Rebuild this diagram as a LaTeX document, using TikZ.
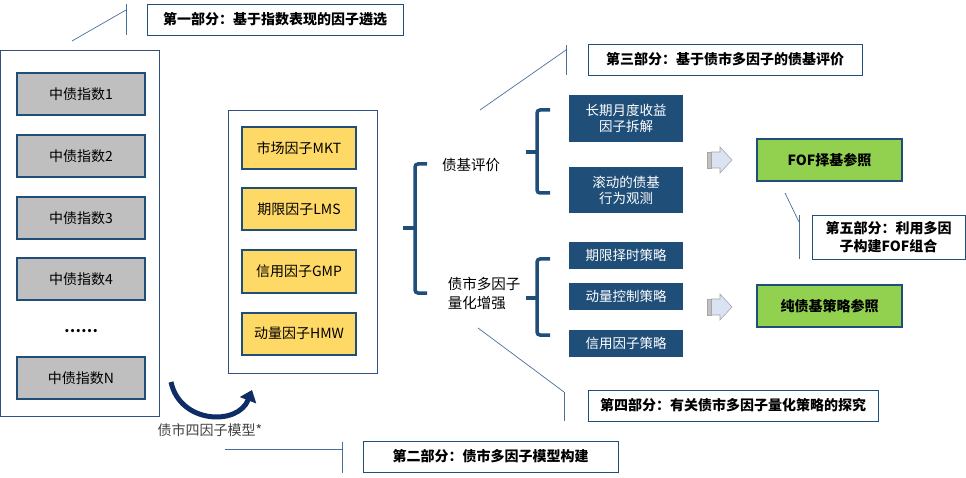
\documentclass[tikz,border=0pt]{standalone}
\usepackage{fontspec}
\setmainfont{Noto Sans CJK SC}
\usetikzlibrary{arrows.meta}

\definecolor{navy}{HTML}{1F4E79}
\definecolor{frameblue}{HTML}{2F5080}
\definecolor{leadblue}{HTML}{4A6E9A}
\definecolor{idxgrey}{HTML}{BFBFBF}
\definecolor{factoryellow}{HTML}{FFD966}
\definecolor{refgreen}{HTML}{92D050}
\definecolor{arrowfill}{HTML}{DAE3F3}
\definecolor{arrowedge}{HTML}{A6A6A6}
\definecolor{curvenavy}{HTML}{0E2D66}

\tikzset{
	framebox/.style={draw=frameblue, line width=0.8pt},
	idxbox/.style={draw=navy, line width=2pt, fill=idxgrey, minimum width=128, minimum height=42, font=\fontsize{14}{16}\selectfont},
	factorbox/.style={draw=navy, line width=2pt, fill=factoryellow, minimum width=114, minimum height=42, font=\fontsize{14}{16}\selectfont},
	subbox/.style={fill=navy, text=white, minimum width=114, align=center, font=\fontsize{13.5}{16}\selectfont},
	refbox/.style={draw=navy, line width=2pt, fill=refgreen, minimum width=145, minimum height=42, font=\bfseries\fontsize{14}{16}\selectfont},
	partbox/.style={draw=navy, line width=0.9pt, fill=white, minimum height=31, align=center, font=\bfseries\fontsize{14}{17}\selectfont},
	leader/.style={draw=leadblue, line width=0.7pt},
	bracket/.style={draw=navy, line width=3.5pt, rounded corners=3pt},
	heading/.style={align=left, font=\fontsize{14.5}{19}\selectfont}
}

\begin{document}
\begin{tikzpicture}[x=1pt,y=-1pt]
	\useasboundingbox (0,0) rectangle (966,478);

	% index list
	\draw[framebox] (0.4,50) rectangle (159,416);
	\node[idxbox] (idx1) at (81,94) {中债指数1};
	\node[idxbox] (idx2) at (81,156) {中债指数2};
	\node[idxbox] (idx3) at (81,218) {中债指数3};
	\node[idxbox] (idx4) at (81,279) {中债指数4};
	\node[font=\bfseries\fontsize{15}{16}\selectfont] (dots) at (81,331) {……};
	\node[idxbox] (idxN) at (81,378) {中债指数N};

	% factors
	\draw[framebox] (228,110) rectangle (377,373);
	\node[factorbox] (mkt) at (299,148) {市场因子MKT};
	\node[factorbox] (lms) at (299,209.5) {期限因子LMS};
	\node[factorbox] (gmp) at (299,271.5) {信用因子GMP};
	\node[factorbox] (hmw) at (299,333.5) {动量因子HMW};

	% model arrow
	\coordinate (bendstart) at (171,382);
	\coordinate (bendend) at (252,390);
	\draw[curvenavy, line width=5pt, -{Triangle[length=11pt,width=17pt]}] (bendstart) .. controls (180,424) and (238,426) .. (bendend);
	\node[text=black!75, font=\fontsize{14}{16}\selectfont] (model) at (210,430) {债市四因子模型*};

	% fund evaluation
	\node[heading] (eval) at (471,165) {债基评价};
	\node[heading] (enhance) at (484,293) {债市多因子\\量化增强};
	\draw[bracket] (427,164) -- (415,164) -- (415,293) -- (427,293);
	\draw[bracket] (403,228) -- (415,228);

	\draw[bracket] (550,110) -- (537,110) -- (537,193) -- (550,193);
	\draw[bracket] (526,152) -- (537,152);
	\node[subbox, minimum height=47] (decomp) at (626,118.5) {长期月度收益\\因子拆解};
	\node[subbox, minimum height=46] (rolling) at (626,190) {滚动的债基\\行为观测};

	\draw[bracket] (550,259) -- (537,259) -- (537,335) -- (550,335);
	\draw[bracket] (526,298) -- (537,298);
	\node[subbox, minimum height=27] (timing) at (626,255.5) {期限择时策略};
	\node[subbox, minimum height=27] (momentum) at (626,296.5) {动量控制策略};
	\node[subbox, minimum height=27] (credit) at (626,343.5) {信用因子策略};

	% block arrows
	\foreach \ay in {160,307}{
		\fill[arrowedge!70] (707,\ay-8) rectangle (713,\ay+8);
		\draw[arrowedge, fill=arrowfill, line width=0.6pt] (711,\ay-8) -- (720,\ay-8) -- (720,\ay-13) -- (732,\ay) -- (720,\ay+13) -- (720,\ay+8) -- (711,\ay+8);
		\draw[arrowedge, line width=0.6pt] (707,\ay-8) rectangle (711,\ay+8);
	}

	\node[refbox] (fof) at (829.5,160) {FOF择基参照};
	\node[refbox] (pure) at (829.5,306) {纯债基策略参照};

	% callouts
	\node[partbox, minimum width=256] (part1) at (275,19.5) {第一部分：基于指数表现的因子遴选};
	\coordinate (p1a) at (126,4);
	\coordinate (p1b) at (126,35);
	\coordinate (p1c) at (72,41);
	\draw[leader] (p1a) -- (p1b);
	\draw[leader] (126,10) -- (p1c);

	\node[partbox, minimum width=255] (part2) at (490.5,456.5) {第二部分：债市多因子模型构建};
	\coordinate (p2a) at (342,442);
	\coordinate (p2b) at (342,473);
	\coordinate (p2c) at (225,449);
	\draw[leader] (p2a) -- (p2b);
	\draw[leader] (342,449) -- (p2c);

	\node[partbox, minimum width=274] (part3) at (725,59.5) {第三部分：基于债市多因子的债基评价};
	\coordinate (p3a) at (566,45);
	\coordinate (p3b) at (566,75);
	\coordinate (p3c) at (480,110);
	\draw[leader] (p3a) -- (p3b);
	\draw[leader] (566,50) -- (p3c);

	\node[partbox, minimum width=290] (part4) at (733,405.5) {第四部分：有关债市多因子量化策略的探究};
	\coordinate (p4a) at (564,392);
	\coordinate (p4b) at (564,421);
	\coordinate (p4c) at (478,328);
	\draw[leader] (p4a) -- (p4b);
	\draw[leader] (p4a) -- (p4c);

	\node[partbox, minimum width=153, minimum height=44, font=\bfseries\fontsize{14}{18}\selectfont] (part5) at (888.5,237) {第五部分：利用多因\\子构建FOF组合};
	\coordinate (p5a) at (799,215);
	\coordinate (p5b) at (799,259);
	\coordinate (p5c) at (785,193);
	\draw[leader] (p5a) -- (p5b);
	\draw[leader] (799,222) -- (p5c);
\end{tikzpicture}
\end{document}
